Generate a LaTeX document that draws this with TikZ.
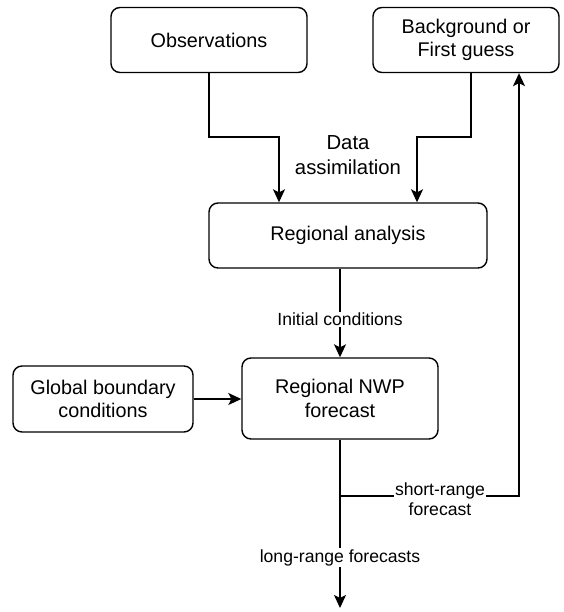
\documentclass[tikz,border=0pt]{standalone}
\usepackage{fontspec}
\setmainfont{Liberation Sans}
\usetikzlibrary{arrows.meta}
\begin{document}
\begin{tikzpicture}[x=1pt,y=-1pt,
  line width=1.4pt,
  box/.style={draw, rounded corners=9pt, align=center, inner sep=0pt,
    font=\fontsize{19.8}{23.5}\selectfont},
  arr/.style={-{Stealth[length=13pt,width=12pt,inset=3pt]}},
  lbl/.style={fill=white, align=center, inner sep=1pt,
    font=\fontsize{17.6}{20}\selectfont},
  biglbl/.style={align=center, inner sep=1pt,
    font=\fontsize{20.3}{25}\selectfont}]
\useasboundingbox (0,0) rectangle (563,612);

% boxes
\node[box, minimum width=196pt, minimum height=65pt] (obs) at (209,40) {Observations};
\node[box, minimum width=186pt, minimum height=65pt] (bg) at (466,40) {Background or\\First guess};
\node[box, minimum width=278pt, minimum height=65pt] (ra) at (348,235.5) {Regional analysis};
\node[box, minimum width=180pt, minimum height=66pt] (gb) at (103,399) {Global boundary\\conditions};
\node[box, minimum width=196pt, minimum height=81pt] (nwp) at (340,398.5) {Regional NWP\\forecast};

% bend points and free ends
\coordinate (obsbend) at (279,137);
\coordinate (bgout) at (471,40);
\coordinate (bgbend) at (417,137);
\coordinate (fbx) at (519,40);
\coordinate (split) at (340,496);
\coordinate (fbcorner) at (519,496);
\coordinate (outend) at (340,608);

% data assimilation inputs
\draw[arr] (obs.south) |- (obsbend) -- (obsbend |- ra.north);
\draw[arr] (bgout |- bg.south) |- (bgbend) -- (bgbend |- ra.north);
\node[biglbl] (da) at (348,155.5) {Data\\assimilation};

% analysis to forecast
\draw[arr] (ra.south -| nwp.north) -- (nwp.north)
  node[lbl, pos=0.57] (ic) {Initial conditions};
\draw[arr] (gb.east) -- (gb.east -| nwp.west);

% forecast outputs
\draw[arr] (nwp.south) -- (outend)
  node[lbl, pos=0.70] (lr) {long-range forecasts};
\draw[arr] (split) -- (fbcorner) -- (fbx |- bg.south);
\node[lbl] (sr) at (440,499) {short-range\\forecast};
\end{tikzpicture}
\end{document}
